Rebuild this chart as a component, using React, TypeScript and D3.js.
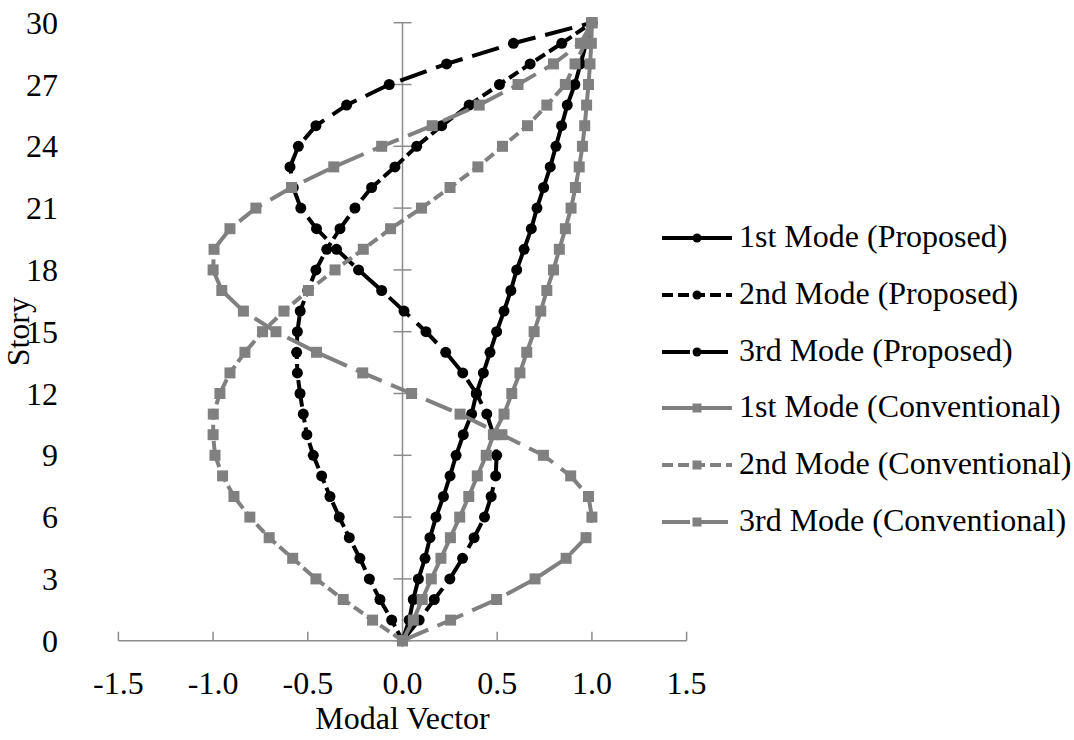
import React from "react";
import * as d3 from "d3";

// Story levels (0 = base, 30 = roof)
const stories: number[] = d3.range(0, 31);

// Modal vector values per story, proposed system
const firstProposed: number[] = [
  0, 0.035, 0.057, 0.084, 0.119, 0.145, 0.177, 0.216, 0.251, 0.283, 0.321,
  0.365, 0.39, 0.427, 0.462, 0.497, 0.536, 0.572, 0.603, 0.642, 0.68,
  0.71, 0.745, 0.78, 0.81, 0.84, 0.87, 0.91, 0.94, 0.97, 1.0,
];
const secondProposed: number[] = [
  0, -0.057, -0.119, -0.175, -0.225, -0.281, -0.334, -0.383, -0.427, -0.471, -0.505,
  -0.524, -0.541, -0.555, -0.559, -0.555, -0.54, -0.5, -0.457, -0.4, -0.33,
  -0.251, -0.163, -0.04, 0.075, 0.207, 0.352, 0.512, 0.674, 0.841, 1.0,
];
const thirdProposed: number[] = [
  0, 0.088, 0.168, 0.25, 0.317, 0.378, 0.433, 0.468, 0.492, 0.497, 0.48,
  0.445, 0.39, 0.318, 0.228, 0.124, 0.008, -0.11, -0.232, -0.348, -0.454,
  -0.537, -0.577, -0.594, -0.55, -0.457, -0.295, -0.07, 0.233, 0.586, 1.0,
];

// Modal vector values per story, conventional system
const firstConventional: number[] = [
  0, 0.057, 0.104, 0.152, 0.203, 0.253, 0.302, 0.35, 0.395, 0.442, 0.48,
  0.536, 0.577, 0.62, 0.656, 0.695, 0.73, 0.762, 0.797, 0.828, 0.86,
  0.89, 0.913, 0.933, 0.95, 0.962, 0.972, 0.982, 0.99, 0.997, 1.0,
];
const secondConventional: number[] = [
  0, -0.158, -0.313, -0.457, -0.58, -0.704, -0.806, -0.89, -0.95, -0.99, -1.0,
  -0.999, -0.964, -0.911, -0.832, -0.739, -0.626, -0.497, -0.356, -0.207, -0.063,
  0.1, 0.251, 0.398, 0.528, 0.66, 0.762, 0.86, 0.911, 0.965, 1.0,
];
const thirdConventional: number[] = [
  0, 0.254, 0.497, 0.7, 0.864, 0.969, 1.0, 0.982, 0.888, 0.744, 0.525,
  0.304, 0.048, -0.21, -0.454, -0.668, -0.84, -0.954, -1.0, -0.995, -0.911,
  -0.774, -0.586, -0.363, -0.11, 0.157, 0.405, 0.61, 0.797, 0.94, 1.0,
];

const seriesNames: string[] = [
  "1st Mode (Proposed)",
  "2nd Mode (Proposed)",
  "3rd Mode (Proposed)",
  "1st Mode (Conventional)",
  "2nd Mode (Conventional)",
  "3rd Mode (Conventional)",
];

const xTicks: number[] = [-1.5, -1.0, -0.5, 0, 0.5, 1.0, 1.5];
const yTicks: number[] = [0, 3, 6, 9, 12, 15, 18, 21, 24, 27, 30];

const BLACK = "#000000";
const GRAY = "#808080";
const AXIS = "#8c8c8c";
const FONT = "Liberation Serif, Times New Roman, Times, serif";

type Style = { color: string; dash: string; marker: "circle" | "square" };

const styles: Style[] = [
  { color: BLACK, dash: "none", marker: "circle" },
  { color: BLACK, dash: "11,5", marker: "circle" },
  { color: BLACK, dash: "28,10", marker: "circle" },
  { color: GRAY, dash: "none", marker: "square" },
  { color: GRAY, dash: "11,5", marker: "square" },
  { color: GRAY, dash: "28,10", marker: "square" },
];

const seriesValues: number[][] = [
  firstProposed,
  secondProposed,
  thirdProposed,
  firstConventional,
  secondConventional,
  thirdConventional,
];

const fmt = (t: number) => (t < 0 ? "-" : "") + Math.abs(t).toFixed(1);

export default function App() {
  const width = 1074;
  const height = 740;

  const x = d3.scaleLinear().domain([-1.5, 1.5]).range([118.4, 686.6]);
  const y = d3.scaleLinear().domain([0, 30]).range([640.7, 22.7]);

  const line = d3
    .line<[number, number]>()
    .x((d) => x(d[0]))
    .y((d) => y(d[1]));

  const renderMarker = (s: Style, cx: number, cy: number, key: string, size = 11) =>
    s.marker === "circle" ? (
      <circle key={key} cx={cx} cy={cy} r={size / 2} fill={s.color} />
    ) : (
      <rect
        key={key}
        x={cx - size / 2}
        y={cy - size / 2}
        width={size}
        height={size}
        fill={s.color}
      />
    );

  const legendRows: number[] = [238, 295, 352, 408, 465, 522];
  const textStyle = { fontFamily: FONT, fontSize: "32px" };

  return (
    <svg
      width={width}
      height={height}
      style={{ position: "absolute", left: 0, top: 0, background: "#fff" }}
    >
      {/* x axis along story 0 */}
      <line x1={x(-1.5)} x2={x(1.5)} y1={y(0)} y2={y(0)} stroke={AXIS} strokeWidth={1.5} />
      {xTicks.map((t) => (
        <line
          key={"xt" + t}
          x1={x(t)}
          x2={x(t)}
          y1={y(0)}
          y2={y(0) - 9}
          stroke={AXIS}
          strokeWidth={1.5}
        />
      ))}
      {/* y axis crossing at zero */}
      <line x1={x(0)} x2={x(0)} y1={y(0)} y2={y(30)} stroke={AXIS} strokeWidth={1.5} />
      {yTicks.map((t) => (
        <line
          key={"yt" + t}
          x1={x(0) - 9}
          x2={x(0) + 9}
          y1={y(t)}
          y2={y(t)}
          stroke={AXIS}
          strokeWidth={1.5}
        />
      ))}

      {/* series lines and markers */}
      {seriesValues.map((vals, i) => {
        const s = styles[i];
        const pts: [number, number][] = vals.map((v, k) => [v, stories[k]]);
        return (
          <g key={"s" + i}>
            <path
              d={line(pts) || ""}
              fill="none"
              stroke={s.color}
              strokeWidth={4}
              strokeDasharray={s.dash}
              strokeLinejoin="round"
            />
            {pts.map((p, k) => renderMarker(s, x(p[0]), y(p[1]), "m" + i + "-" + k))}
          </g>
        );
      })}

      {/* tick labels */}
      {yTicks.map((t) => (
        <text key={"yl" + t} x={58} y={y(t) + 11} textAnchor="end" style={textStyle} fill="#000">
          {t}
        </text>
      ))}
      {xTicks.map((t) => (
        <text key={"xl" + t} x={x(t)} y={694} textAnchor="middle" style={textStyle} fill="#000">
          {fmt(t)}
        </text>
      ))}

      {/* axis titles */}
      <text x={x(0)} y={729} textAnchor="middle" style={textStyle} fill="#000">
        Modal Vector
      </text>
      <text
        transform={`translate(29,${y(15)}) rotate(-90)`}
        textAnchor="middle"
        style={textStyle}
        fill="#000"
      >
        Story
      </text>

      {/* legend */}
      {seriesNames.map((name, i) => {
        const s = styles[i];
        const ry = legendRows[i];
        return (
          <g key={"lg" + i}>
            <line
              x1={662}
              x2={732}
              y1={ry}
              y2={ry}
              stroke={s.color}
              strokeWidth={4}
              strokeDasharray={s.dash}
            />
            {renderMarker(s, 697, ry, "lm" + i, 9)}
            <text x={739} y={ry + 9} style={textStyle} fill="#000">
              {name}
            </text>
          </g>
        );
      })}
    </svg>
  );
}
